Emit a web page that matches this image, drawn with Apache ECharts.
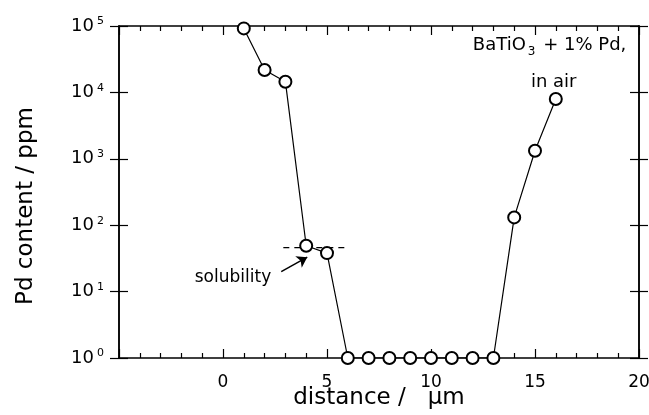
<!DOCTYPE html>
<html>
<head>
<meta charset="utf-8">
<script src="https://cdn.jsdelivr.net/npm/echarts@6/dist/echarts.min.js"></script>
<style>
  html, body { margin: 0; padding: 0; background: #fff; }
  #chart { width: 649px; height: 415px; }
</style>
</head>
<body>
<div id="chart"></div>
<script>
// measured profile, BaTiO3 + 1% Pd, in air
const distance = [1, 2, 3, 4, 5, 6, 7, 8, 9, 10, 11, 12, 13, 14, 15, 16]
const pdContent = [92000, 21700, 14500, 49, 38, 1, 1, 1, 1, 1, 1, 1, 1, 131, 1320, 7950]

// solubility limit (dashed) and arrow pointing at it
const solubilityLine = [[2.9, 46], [5.9, 46]]
const arrowFrom = [2.8, 20]
const arrowTo = [4.05, 33]

const xTicks = [0, 5, 10, 15, 20]
const yTicks = [1, 10, 100, 1000, 10000, 100000]

const FONT = 'DejaVu Sans, Liberation Sans, sans-serif'
const chart = echarts.init(document.getElementById('chart'))

const xBase = {
  type: 'value', min: -5, max: 20, interval: 5,
  splitLine: { show: false },
  axisLine: { onZero: false, lineStyle: { color: '#000', width: 1.5 } },
  axisTick: { inside: true, length: 9, lineStyle: { color: '#000', width: 1.2 } },
  minorTick: { show: true, splitNumber: 5, length: 5, lineStyle: { color: '#000', width: 1.2 } },
}
const yBase = {
  type: 'log', logBase: 10, min: 1, max: 100000,
  splitLine: { show: false },
  minorTick: { show: false },
  axisLine: { onZero: false, lineStyle: { color: '#000', width: 1.5 } },
}

chart.setOption({
  animation: false,
  backgroundColor: '#fff',
  grid: { left: 119, right: 10, top: 26, bottom: 57, outerBoundsMode: 'none' },
  xAxis: [
    {
      ...xBase, position: 'bottom',
      name: 'distance /   µm', nameLocation: 'middle', nameGap: 29, nameMoveOverlap: false,
      nameTextStyle: { color: '#000', fontSize: 23, fontFamily: FONT },
      axisLabel: {
        color: '#000', fontSize: 17, fontFamily: FONT, margin: 16,
        formatter: v => xTicks.includes(v) ? String(v) : '',
      },
    },
    { ...xBase, position: 'top', axisLabel: { show: false } },
  ],
  yAxis: [
    {
      ...yBase, position: 'left',
      name: 'Pd content / ppm', nameLocation: 'middle', nameGap: 81, nameRotate: 90, nameMoveOverlap: false,
      nameTextStyle: { color: '#000', fontSize: 23, fontFamily: FONT, padding: [0, 28, 0, 0] },
      axisTick: { inside: false, length: 9, lineStyle: { color: '#000', width: 1.2 } },
      axisLabel: {
        margin: 15,
        formatter: v => yTicks.includes(v) ? `{b|10}{e|${Math.round(Math.log10(v))}}` : '',
        rich: {
          b: { color: '#000', fontSize: 18, fontFamily: FONT, lineHeight: 20 },
          e: { color: '#000', fontSize: 11, fontFamily: FONT, verticalAlign: 'top', padding: [0, 0, 0, 3] },
        },
      },
    },
    { ...yBase, position: 'left', axisLabel: { show: false }, axisTick: { inside: true, length: 9, lineStyle: { color: '#000', width: 1.2 } } },
    { ...yBase, position: 'right', axisLabel: { show: false }, axisTick: { inside: true, length: 9, lineStyle: { color: '#000', width: 1.2 } } },
    { ...yBase, position: 'right', axisLabel: { show: false }, axisTick: { inside: false, length: 9, lineStyle: { color: '#000', width: 1.2 } } },
  ],
  series: [
    {
      type: 'line',
      data: solubilityLine,
      symbol: 'none',
      silent: true,
      lineStyle: { color: '#000', width: 1.2, type: [6, 5] },
      markLine: {
        silent: true,
        symbol: ['none', 'arrow'],
        symbolSize: 10,
        label: { show: false },
        lineStyle: { color: '#000', width: 1.5, type: 'solid' },
        data: [[{ coord: arrowFrom }, { coord: arrowTo }]],
      },
    },
    {
      type: 'line',
      data: distance.map((d, i) => [d, pdContent[i]]),
      symbol: 'emptyCircle',
      symbolSize: 12,
      lineStyle: { color: '#000', width: 1.2 },
      itemStyle: { color: '#000', borderColor: '#000', borderWidth: 1.3 },
      markPoint: {
        symbol: 'circle', symbolSize: 0,
        label: { show: true, position: 'inside', color: '#000', fontSize: 17, fontFamily: FONT },
        data: [
          { coord: [0.48, 16], label: { formatter: 'solubility' } },
          {
            coord: [15.7, 51800],
            label: {
              formatter: '{a|BaTiO}{s|3}{a| + 1% Pd,}',
              rich: {
                a: { color: '#000', fontSize: 18, fontFamily: FONT },
                s: { color: '#000', fontSize: 12, fontFamily: FONT, verticalAlign: 'bottom', padding: [14, 2, 0, 2] },
              },
            },
          },
          { coord: [15.9, 14350], label: { formatter: 'in air', fontSize: 18 } },
        ],
      },
    },
  ],
})
window.addEventListener('resize', () => chart.resize())
</script>
</body>
</html>
